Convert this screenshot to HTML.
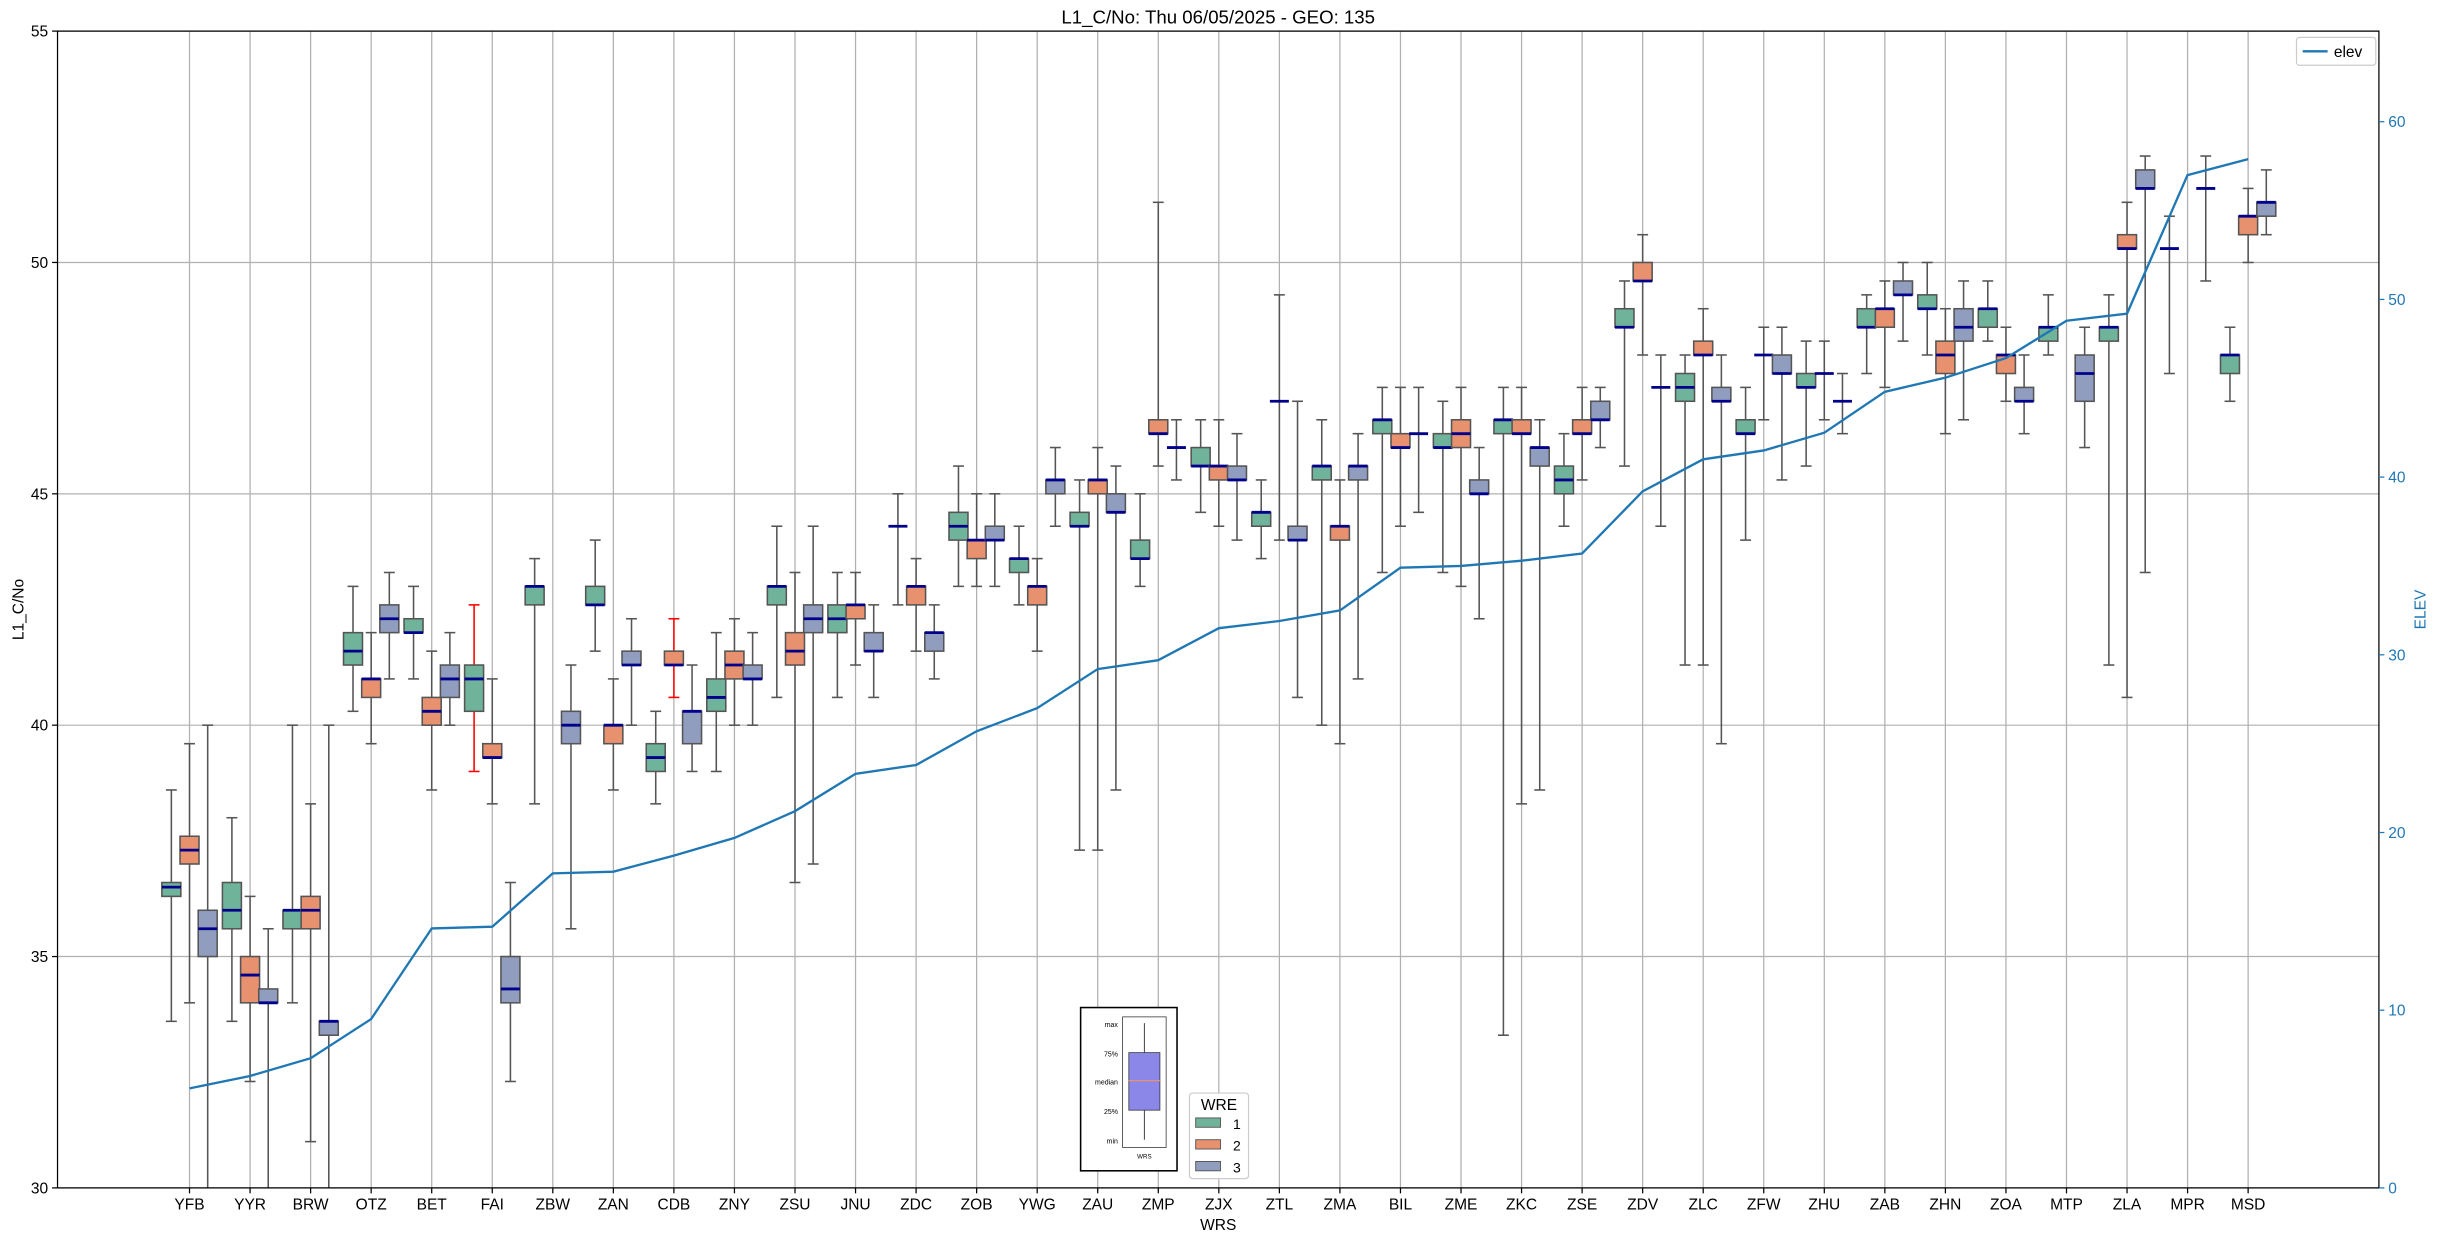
<!DOCTYPE html>
<html><head><meta charset="utf-8"><style>
html,body{margin:0;padding:0;background:#fff;}
svg{display:block;font-family:"Liberation Sans","DejaVu Sans",sans-serif;}
</style></head><body>
<svg id="chart" width="2438" height="1240" viewBox="0 0 1568 797.5" xmlns="http://www.w3.org/2000/svg">
<rect x="0" y="0" width="1568" height="797.5" fill="#fff"/>
<g id="grid"></g>
<g id="marks"></g>
<g id="axes"></g>
</svg>
<script>
const categories=["YFB","YYR","BRW","OTZ","BET","FAI","ZBW","ZAN","CDB","ZNY","ZSU","JNU","ZDC","ZOB","YWG","ZAU","ZMP","ZJX","ZTL","ZMA","BIL","ZME","ZKC","ZSE","ZDV","ZLC","ZFW","ZHU","ZAB","ZHN","ZOA","MTP","ZLA","MPR","MSD"];
// [min,q1,median,q3,max]
const wre1=[[33.6,36.3,36.5,36.6,38.6],[33.6,35.6,36.0,36.6,38.0],[34.0,35.6,36.0,36.0,40.0],[40.3,41.3,41.6,42.0,43.0],[41.0,42.0,42.0,42.3,43.0],[39.0,40.3,41.0,41.3,42.6],[38.3,42.6,43.0,43.0,43.6],[41.6,42.6,42.6,43.0,44.0],[38.3,39.0,39.3,39.6,40.3],[39.0,40.3,40.6,41.0,42.0],[40.6,42.6,43.0,43.0,44.3],[40.6,42.0,42.3,42.6,43.3],[42.6,44.3,44.3,44.3,45.0],[43.0,44.0,44.3,44.6,45.6],[42.6,43.3,43.6,43.6,44.3],[37.3,44.3,44.3,44.6,45.3],[43.0,43.6,43.6,44.0,45.0],[44.6,45.6,45.6,46.0,46.6],[43.6,44.3,44.6,44.6,45.3],[40.0,45.3,45.6,45.6,46.6],[43.3,46.3,46.6,46.6,47.3],[43.3,46.0,46.0,46.3,47.0],[33.3,46.3,46.6,46.6,47.3],[44.3,45.0,45.3,45.6,46.3],[45.6,48.6,48.6,49.0,49.6],[41.3,47.0,47.3,47.6,48.0],[44.0,46.3,46.3,46.6,47.3],[45.6,47.3,47.3,47.6,48.3],[47.6,48.6,48.6,49.0,49.3],[48.0,49.0,49.0,49.3,50.0],[48.3,48.6,49.0,49.0,49.6],[48.0,48.3,48.6,48.6,49.3],[41.3,48.3,48.6,48.6,49.3],[47.6,50.3,50.3,50.3,51.0],[47.0,47.6,48.0,48.0,48.6]];
const wre2=[[34.0,37.0,37.3,37.6,39.6],[32.3,34.0,34.6,35.0,36.3],[31.0,35.6,36.0,36.3,38.3],[39.6,40.6,41.0,41.0,42.0],[38.6,40.0,40.3,40.6,41.6],[38.3,39.3,39.3,39.6,41.0],null,[38.6,39.6,40.0,40.0,41.0],[40.6,41.3,41.3,41.6,42.3],[40.0,41.0,41.3,41.6,42.3],[36.6,41.3,41.6,42.0,43.3],[41.3,42.3,42.6,42.6,43.3],[41.6,42.6,43.0,43.0,43.6],[43.0,43.6,44.0,44.0,45.0],[41.6,42.6,43.0,43.0,43.6],[37.3,45.0,45.3,45.3,46.0],[45.6,46.3,46.3,46.6,51.3],[44.3,45.3,45.6,45.6,46.6],[44.0,47.0,47.0,47.0,49.3],[39.6,44.0,44.3,44.3,45.3],[44.3,46.0,46.0,46.3,47.3],[43.0,46.0,46.3,46.6,47.3],[38.3,46.3,46.3,46.6,47.3],[45.3,46.3,46.3,46.6,47.3],[48.0,49.6,49.6,50.0,50.6],[41.3,48.0,48.0,48.3,49.0],[46.6,48.0,48.0,48.0,48.6],[46.6,47.6,47.6,47.6,48.3],[47.3,48.6,49.0,49.0,49.6],[46.3,47.6,48.0,48.3,49.0],[47.0,47.6,48.0,48.0,48.6],null,[40.6,50.3,50.3,50.6,51.3],null,[50.0,50.6,51.0,51.0,51.6]];
const wre3=[[29,35.0,35.6,36.0,40.0],[29,34.0,34.0,34.3,35.6],[29,33.3,33.6,33.6,40.0],[41.0,42.0,42.3,42.6,43.3],[40.0,40.6,41.0,41.3,42.0],[32.3,34.0,34.3,35.0,36.6],[35.6,39.6,40.0,40.3,41.3],[40.0,41.3,41.3,41.6,42.3],[39.0,39.6,40.3,40.3,41.3],[40.0,41.0,41.0,41.3,42.0],[37.0,42.0,42.3,42.6,44.3],[40.6,41.6,41.6,42.0,42.6],[41.0,41.6,42.0,42.0,42.6],[43.0,44.0,44.0,44.3,45.0],[44.3,45.0,45.3,45.3,46.0],[38.6,44.6,44.6,45.0,45.6],[45.3,46.0,46.0,46.0,46.6],[44.0,45.3,45.3,45.6,46.3],[40.6,44.0,44.0,44.3,47.0],[41.0,45.3,45.6,45.6,46.3],[44.6,46.3,46.3,46.3,47.3],[42.3,45.0,45.0,45.3,46.0],[38.6,45.6,46.0,46.0,46.6],[46.0,46.6,46.6,47.0,47.3],[44.3,47.3,47.3,47.3,48.0],[39.6,47.0,47.0,47.3,48.0],[45.3,47.6,47.6,48.0,48.6],[46.3,47.0,47.0,47.0,47.6],[48.3,49.3,49.3,49.6,50.0],[46.6,48.3,48.6,49.0,49.6],[46.3,47.0,47.0,47.3,48.0],[46.0,47.0,47.6,48.0,48.6],[43.3,51.6,51.6,52.0,52.3],[49.6,51.6,51.6,51.6,52.3],[50.6,51.0,51.3,51.3,52.0]];
const elev=[5.6,6.3,7.3,9.5,14.6,14.7,17.7,17.8,18.7,19.7,21.2,23.3,23.8,25.7,27.0,29.2,29.7,31.5,31.9,32.5,34.9,35.0,35.3,35.7,39.2,41.0,41.5,42.5,44.8,45.6,46.7,48.8,49.2,57.0,57.9];
const leftTicks=[30,35,40,45,50,55];
const rightTicks=[0,10,20,30,40,50,60];
const redWhisk={"1-5":true,"2-8":true};

const NS="http://www.w3.org/2000/svg";
const L=37,R=1530,T=20,B=764;
const xmin=-2.18,xmax=36.16;
function X(i){return L+(i-xmin)/(xmax-xmin)*(R-L);}
function Y(v){return B-(v-30)/25*(B-T);}
function Y2(v){return B-v/65.1*(B-T);}
function mk(tag,attrs,parent,name,inter){const e=document.createElementNS(NS,tag);for(const k in attrs)e.setAttribute(k,attrs[k]);


parent.appendChild(e);return e;}
const grid=document.getElementById('grid'),marks=document.getElementById('marks'),axes=document.getElementById('axes');
leftTicks.forEach(t=>{mk('line',{x1:L,x2:R,y1:Y(t),y2:Y(t),stroke:'#b0b0b0','stroke-width':0.8},grid,'h-gridline');});
categories.forEach((c,i)=>{mk('line',{x1:X(i),x2:X(i),y1:T,y2:B,stroke:'#b0b0b0','stroke-width':0.8},grid,'v-gridline');});
const clip=mk('clipPath',{id:'pc'},marks,'plot-clip');mk('rect',{x:L,y:T,width:R-L,height:B-T},clip,'plot-clip-rect');
const mg=mk('g',{'clip-path':'url(#pc)'},marks,'box-layer');
const series=[wre1,wre2,wre3],colors=['#6fb39b','#e8916f','#909dbf'],offs=[-0.3,0,0.3];
const bw=12.2,cw=7;
series.forEach((s,si)=>{s.forEach((d,i)=>{if(!d)return;const cx=X(i+offs[si]);
 const wc=redWhisk[(si+1)+'-'+i]?'#ff0000':'#555';
 const g=mk('g',{},mg,'box-'+categories[i]+'-wre'+(si+1));
 mk('line',{x1:cx,x2:cx,y1:Y(d[0]),y2:Y(d[1]),stroke:wc,'stroke-width':1},g,'lower-whisker');
 mk('line',{x1:cx,x2:cx,y1:Y(d[3]),y2:Y(d[4]),stroke:wc,'stroke-width':1},g,'upper-whisker');
 mk('line',{x1:cx-cw/2,x2:cx+cw/2,y1:Y(d[0]),y2:Y(d[0]),stroke:wc,'stroke-width':1},g,'lower-cap');
 mk('line',{x1:cx-cw/2,x2:cx+cw/2,y1:Y(d[4]),y2:Y(d[4]),stroke:wc,'stroke-width':1},g,'upper-cap');
 mk('rect',{x:cx-bw/2,y:Y(d[3]),width:bw,height:Math.max(0,Y(d[1])-Y(d[3])),fill:colors[si],stroke:'#555','stroke-width':1},g,'box');
 mk('line',{x1:cx-bw/2,x2:cx+bw/2,y1:Y(d[2]),y2:Y(d[2]),stroke:'#00008b','stroke-width':1.8},g,'median');
});});
let p='';elev.forEach((e,i)=>{p+=(i?'L':'M')+X(i).toFixed(1)+','+Y2(e).toFixed(1);});
mk('path',{d:p,fill:'none',stroke:'#1f77b4','stroke-width':1.5},marks,'elev-line');
mk('rect',{x:L,y:T,width:R-L,height:B-T,fill:'none',stroke:'#000','stroke-width':0.8},axes,'plot-frame');
function txt(s,attrs,name){const e=mk('text',attrs,axes,name);e.textContent=s;return e;}
leftTicks.forEach(t=>{mk('line',{x1:L-3.5,x2:L,y1:Y(t),y2:Y(t),stroke:'#000','stroke-width':0.8},axes,'y-tick');
 txt(String(t),{x:L-6,y:Y(t)+3.5,'font-size':10,'text-anchor':'end'},'y-tick-label');});
rightTicks.forEach(t=>{mk('line',{x1:R,x2:R+3.5,y1:Y2(t),y2:Y2(t),stroke:'#1f77b4','stroke-width':0.8},axes,'y2-tick');
 txt(String(t),{x:R+6,y:Y2(t)+3.5,'font-size':10,fill:'#1f77b4'},'y2-tick-label');});
categories.forEach((c,i)=>{mk('line',{x1:X(i),x2:X(i),y1:B,y2:B+3.5,stroke:'#000','stroke-width':0.8},axes,'x-tick');
 txt(c,{x:X(i),y:B+14,'font-size':10,'text-anchor':'middle'},'x-tick-label');});
txt('L1_C/No: Thu 06/05/2025 - GEO: 135',{x:(L+R)/2,y:15,'font-size':12,'text-anchor':'middle'},'chart-title');
txt('WRS',{x:(L+R)/2,y:791,'font-size':10,'text-anchor':'middle'},'x-axis-title');
txt('L1_C/No',{x:15,y:(T+B)/2,'font-size':10,'text-anchor':'middle',transform:'rotate(-90 15 '+((T+B)/2)+')'},'y-axis-title');
txt('ELEV',{x:1560,y:(T+B)/2,'font-size':10,'text-anchor':'middle',fill:'#1f77b4',transform:'rotate(-90 1560 '+((T+B)/2)+')'},'y2-axis-title');
mk('rect',{x:1477,y:24,width:51,height:18,fill:'#fff',stroke:'#ccc','stroke-width':0.8,rx:2},axes,'elev-legend-box');
mk('line',{x1:1481,x2:1497,y1:33,y2:33,stroke:'#1f77b4','stroke-width':1.5},axes,'elev-legend-line');
txt('elev',{x:1501,y:36.5,'font-size':10},'elev-legend-label');
mk('rect',{x:765,y:703,width:38,height:55,fill:'#fff',stroke:'#ccc','stroke-width':0.8,rx:2},axes,'wre-legend-box');
txt('WRE',{x:784,y:714,'font-size':10,'text-anchor':'middle'},'wre-legend-title');
['1','2','3'].forEach((s,k)=>{mk('rect',{x:769,y:719+k*14,width:16,height:6,fill:colors[k],stroke:'#555','stroke-width':0.6},axes,'wre-legend-swatch');
 txt(s,{x:793,y:726+k*14,'font-size':9},'wre-legend-label');});
mk('rect',{x:695,y:648,width:62,height:105,fill:'#fff',stroke:'#000','stroke-width':1},axes,'boxplot-key-inset');
mk('rect',{x:722,y:654,width:28,height:84,fill:'#fff',stroke:'#333','stroke-width':0.5},axes,'key-frame');
mk('line',{x1:736,x2:736,y1:658,y2:733,stroke:'#333','stroke-width':0.6},axes,'key-whisker');
mk('rect',{x:726,y:677,width:20,height:37,fill:'#8a87e8',stroke:'#333','stroke-width':0.5},axes,'key-box');
mk('line',{x1:726,x2:746,y1:695,y2:695,stroke:'#e8916f','stroke-width':0.8},axes,'key-median');
[['max',659],['75%',678],['median',696],['25%',715],['min',734]].forEach(a=>txt(a[0],{x:719,y:a[1]+1.5,'font-size':4.5,'text-anchor':'end'},'key-label'));
txt('WRS',{x:736,y:745,'font-size':4,'text-anchor':'middle'},'key-x-label');
</script>
</body></html>
